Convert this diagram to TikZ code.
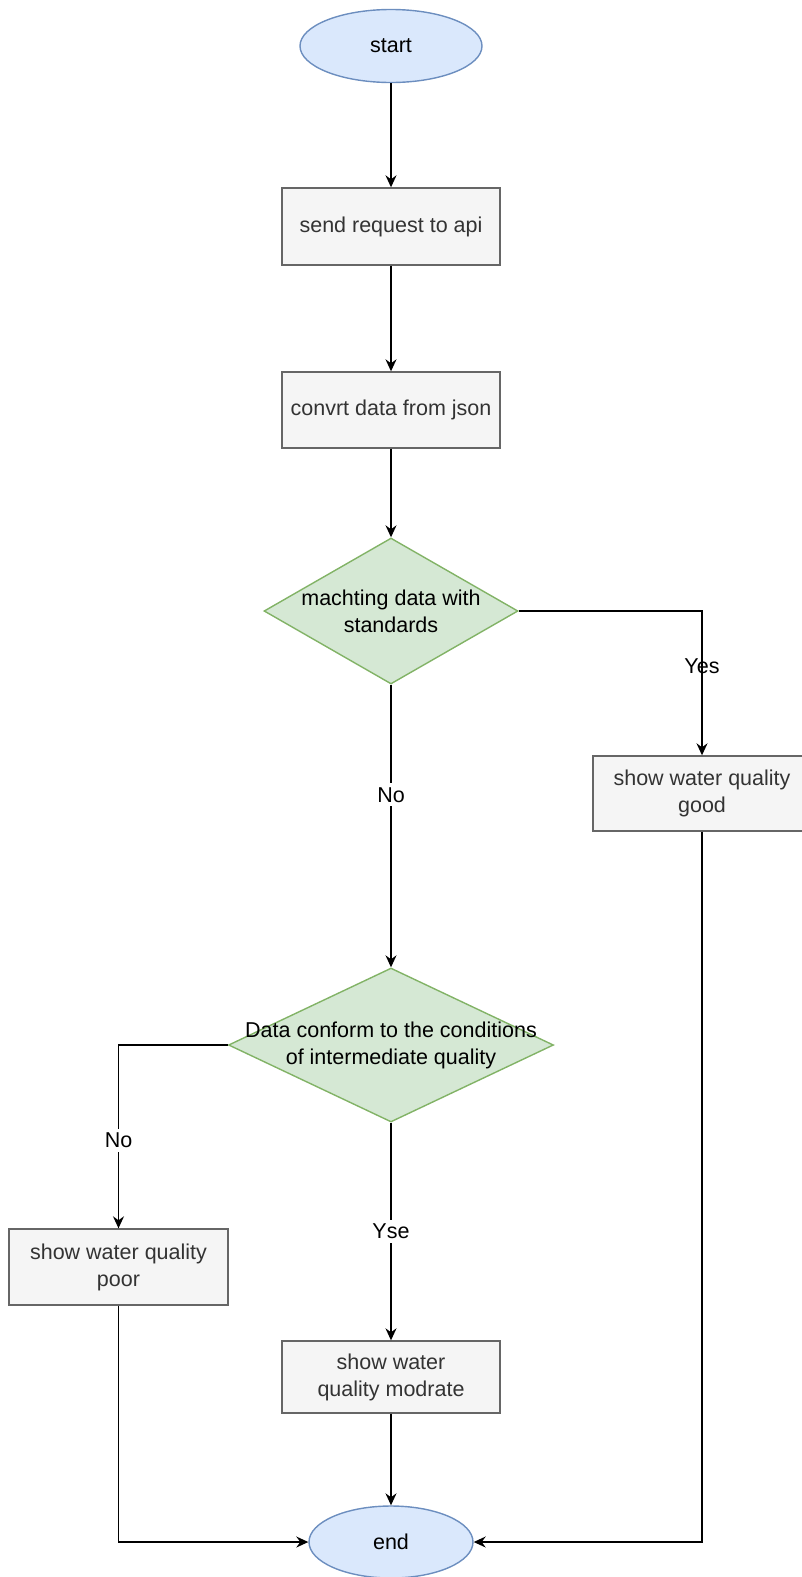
\documentclass[tikz,border=0pt]{standalone}
\usepackage{fontspec}
\setmainfont{Liberation Sans}
\usetikzlibrary{shapes.geometric,arrows.meta}

\definecolor{termfill}{HTML}{DAE8FC}
\definecolor{termline}{HTML}{6C8EBF}
\definecolor{decfill}{HTML}{D5E8D4}
\definecolor{decline}{HTML}{82B366}
\definecolor{procfill}{HTML}{F5F5F5}
\definecolor{procline}{HTML}{666666}
\definecolor{proctext}{HTML}{333333}

\tikzset{
  every node/.style={font=\fontsize{21.5}{27}\selectfont, inner sep=0pt},
  terminal/.style={ellipse, draw=termline, fill=termfill, line width=1.4pt},
  procbox/.style={rectangle, draw=procline, fill=procfill, line width=1.4pt,
    text=proctext, align=center},
  decision/.style={diamond, draw=decline, fill=decfill, line width=1.4pt},
  dectext/.style={align=center, text=black},
  flow/.style={line width=1.4pt, -{Stealth[length=12pt,width=11pt,inset=4pt]}},
  lbl/.style={fill=white, inner sep=4pt, text=black},
  lblclear/.style={inner sep=2pt, text=black}
}

\begin{document}
\begin{tikzpicture}[x=1pt,y=-1pt]
\useasboundingbox (0,0) rectangle (802,1577);

% shapes
\node[terminal, minimum width=182, minimum height=73] (start) at (391,46) {start};
\node[procbox, minimum width=218, minimum height=77] (send) at (391,226.5) {send request to api};
\node[procbox, minimum width=218, minimum height=76] (conv) at (391,410) {convrt data from json};
\node[decision, minimum width=254, minimum height=146] (dec1) at (391,611) {};
\node[dectext] (dec1txt) at (391,611) {machting data with\\standards};
\node[procbox, minimum width=218, minimum height=75] (good) at (702,793.5) {show water quality\\good};
\node[decision, minimum width=325, minimum height=154] (dec2) at (391,1045) {};
\node[dectext] (dec2txt) at (391,1045) {Data conform to the conditions\\of intermediate quality};
\node[procbox, minimum width=219, minimum height=76] (poor) at (118.5,1267) {show water quality\\poor};
\node[procbox, minimum width=218, minimum height=72] (mod) at (391,1377) {show water\\quality modrate};
\node[terminal, minimum width=164, minimum height=72] (end) at (391,1542) {end};

% connectors
\draw[flow] (start.south) -- (send.north);
\draw[flow] (send.south) -- (conv.north);
\draw[flow] (conv.south) -- (dec1.north);
\draw[flow] (dec1.east) -| node[lblclear, pos=0.69] (yes) {Yes} (good.north);
\draw[flow] (dec1.south) -- node[lbl, pos=0.39] (no1) {No} (dec2.north);
\draw[flow] (dec2.west) -| node[lbl, pos=0.76] (no2) {No} (poor.north);
\draw[flow] (dec2.south) -- node[lbl, pos=0.5] (yse) {Yse} (mod.north);
\draw[flow] (mod.south) -- (end.north);
\draw[flow] (poor.south) |- (end.west);
\draw[flow] (good.south) |- (end.east);
\end{tikzpicture}
\end{document}
